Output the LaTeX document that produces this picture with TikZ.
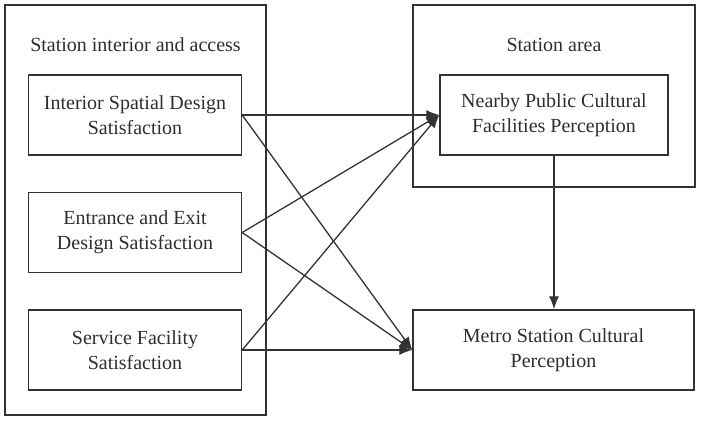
\documentclass[tikz,border=0pt]{standalone}
\usepackage{fontspec}
\setmainfont{Liberation Serif}
\newfontfamily\tnr{Liberation Serif}
\usetikzlibrary{arrows.meta}
\definecolor{ln}{HTML}{333333}
\definecolor{tx}{HTML}{2E2E2E}
\begin{document}
\begin{tikzpicture}[x=1pt,y=-1pt,
  every node/.style={text=tx,font=\tnr\fontsize{20}{25}\selectfont},
  grp/.style={draw=ln,line width=1.4pt},
  box/.style={draw=ln,line width=1.4pt,align=center,inner sep=0pt},
  arr/.style={draw=ln,line width=1.3pt,-{Latex[length=13pt,width=10pt]}}]
\useasboundingbox (0,0) rectangle (701,424);
\draw[grp] (5,5) rectangle (266,415);
\draw[grp] (413,5) rectangle (695,187);
\node at (135.5,45) (lt) {Station interior and access};
\node at (554,45) (rt) {Station area};
\node[box,minimum width=213pt,minimum height=80pt] (a) at (135,115) {Interior Spatial Design\\Satisfaction};
\node[box,minimum width=213pt,minimum height=80pt] (b) at (135,232.5) {Entrance and Exit\\Design Satisfaction};
\node[box,minimum width=213pt,minimum height=80pt] (c) at (135,350) {Service Facility\\Satisfaction};
\node[box,minimum width=228pt,minimum height=80pt] (n) at (554,115) {Nearby Public Cultural\\Facilities Perception};
\node[box,minimum width=281pt,minimum height=80pt] (m) at (553.5,350) {Metro Station Cultural\\Perception};
\draw[arr] (a.east) -- (n.west);
\draw[arr] (a.east) -- (m.west);
\draw[arr] (b.east) -- (n.west);
\draw[arr] (b.east) -- (m.west);
\draw[arr] (c.east) -- (n.west);
\draw[arr] (c.east) -- (m.west);
\draw[arr] (n.south) -- (n.south |- m.north);
\end{tikzpicture}
\end{document}
